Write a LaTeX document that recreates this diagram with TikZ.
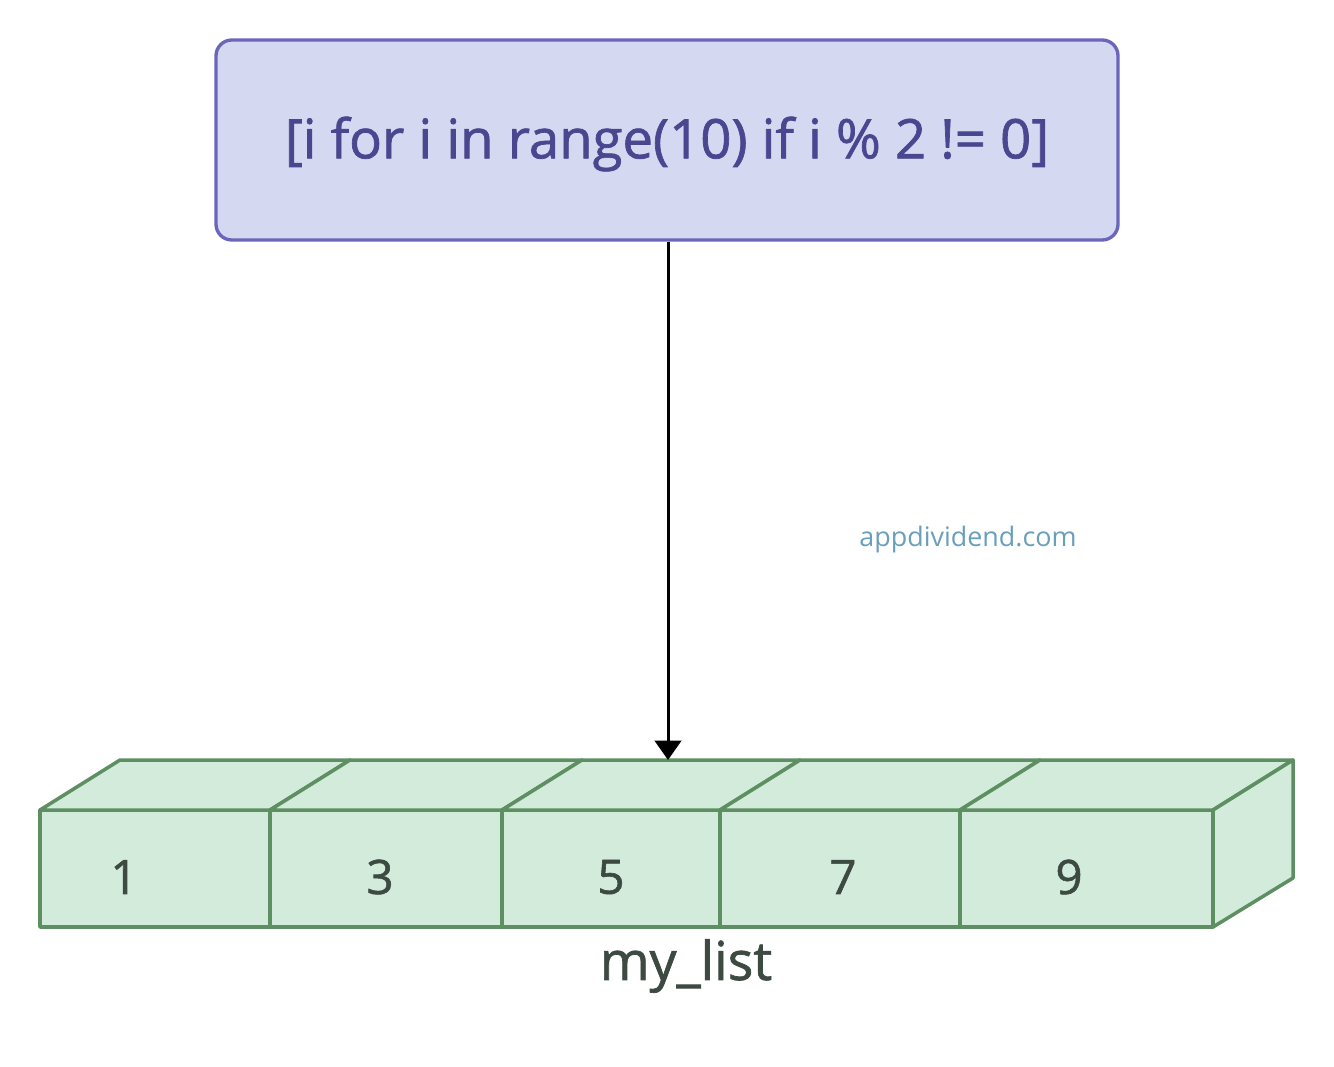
\documentclass[tikz,border=0pt]{standalone}
\usepackage{fontspec}
\setmainfont{Open Sans}
\newfontfamily\semifont{Open Sans}[FakeBold=1.3]
\usepackage{tikz}
\usetikzlibrary{positioning, calc, arrows.meta}

\definecolor{exprfill}{HTML}{D4D8F1}
\definecolor{exprdraw}{HTML}{6B66BC}
\definecolor{exprtext}{HTML}{4B468F}
\definecolor{cellfill}{HTML}{D2EBDA}
\definecolor{celldraw}{HTML}{5E8F62}
\definecolor{celltext}{HTML}{3D4A42}
\definecolor{marktext}{HTML}{6A9FBA}

\tikzset{
  exprbox/.style={draw=exprdraw, fill=exprfill, line width=1.9pt,
    rounded corners=9pt, minimum width=902*0.02cm, minimum height=200*0.02cm,
    text=exprtext, font=\semifont\fontsize{31}{36}\selectfont},
  cellface/.style={draw=celldraw, fill=cellfill, line width=2pt, line join=round},
  cellnum/.style={text=celltext, font=\semifont\fontsize{27}{32}\selectfont},
}

\begin{document}
\begin{tikzpicture}[x=0.02cm, y=-0.02cm]
    \useasboundingbox (0, 0) rectangle (1334, 1067);
    \def\dx{80}
    \def\dy{-50}

    % The expression
    \node[exprbox] (expr) at (667, 140) {};
    \node[exprbox, draw=none, fill=none] (exprlabel) at (667, 144) {[i for i in range(10) if i \% 2 != 0]};

    % The list, front and top faces
    \foreach \xa/\xb in {40/270, 270/502, 502/720, 720/960, 960/1213} {
      \draw[cellface] (\xa, 810) rectangle (\xb, 927);
      \draw[cellface] (\xa, 810) -- ++(\dx, \dy) -- (\xb + \dx, 760) -- (\xb, 810) -- cycle;
    }
    % right face
    \draw[cellface] (1213, 810) -- ++(\dx, \dy) -- ++(0, 118) -- (1213, 927) -- cycle;

    \coordinate (listtop) at (668, 760);

    % The values
    \node[cellnum] (v1) at (124, 877) {1};
    \node[cellnum] (v3) at (380, 877) {3};
    \node[cellnum] (v5) at (611, 877) {5};
    \node[cellnum] (v7) at (843, 877) {7};
    \node[cellnum] (v9) at (1069, 877) {9};

    \node[text=celltext, font=\semifont\fontsize{30.5}{36}\selectfont] (name) at (686, 966) {my\_list};

    \node[text=marktext, font=\fontsize{15.3}{18}\selectfont] (mark) at (968, 540) {appdividend.com};

    % The arrow
    \draw[line width=1.7pt, -{Triangle[length=11pt, width=15pt]}] (expr.south -| listtop) -- (listtop);
  \end{tikzpicture}
\end{document}
